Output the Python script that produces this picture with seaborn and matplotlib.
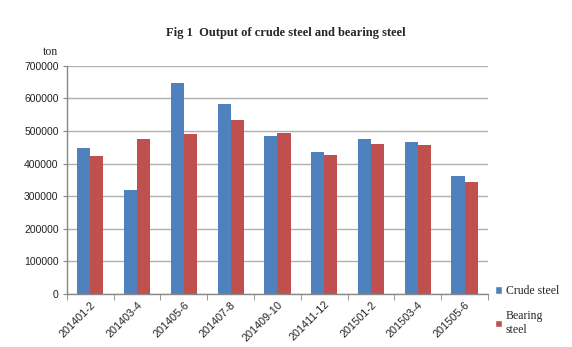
import matplotlib
matplotlib.use("Agg")
import matplotlib.pyplot as plt
import seaborn as sns
import pandas as pd
from matplotlib.patches import Patch

periods = ["201401-2", "201403-4", "201405-6", "201407-8", "201409-10",
           "201411-12", "201501-2", "201503-4", "201505-6"]
crude_steel = [448000, 319000, 649000, 582000, 486000, 437000, 475000, 465000, 362000]
bearing_steel = [424000, 476000, 490000, 534000, 495000, 427000, 460000, 457000, 343000]
series_names = ["Crude steel", "Bearing steel"]
colors = ["#4F81BD", "#C0504D"]

df = pd.DataFrame({
    "period": periods * 2,
    "value": crude_steel + bearing_steel,
    "series": [series_names[0]] * len(periods) + [series_names[1]] * len(periods),
})

sns.set_style("white")
fig = plt.figure(figsize=(5.72, 3.47), dpi=100)
ax = fig.add_axes([0.117, 0.153, 0.736, 0.657])

sns.barplot(data=df, x="period", y="value", hue="series", palette=colors,
            width=0.56, saturation=1, ax=ax, legend=False, linewidth=0,
            edgecolor="none")

ax.set_ylim(0, 700000)
ax.set_yticks(range(0, 700001, 100000))
ax.set_yticklabels([str(v) for v in range(0, 700001, 100000)],
                   fontsize=7.5, family="Liberation Sans", color="#222222")
ax.set_xlim(-0.5, len(periods) - 0.5)
ax.set_xticks(range(len(periods)))
ax.set_xticklabels(periods, rotation=45, ha="right", rotation_mode="anchor",
                   fontsize=7.8, family="Liberation Sans", color="#222222")
ax.tick_params(axis="x", length=0, pad=4)
ax.tick_params(axis="y", length=3, color="#888888", left=True, pad=3)
ax.set_xticks([i - 0.5 for i in range(len(periods) + 1)], minor=True)
ax.tick_params(axis="x", which="minor", length=4, color="#888888", bottom=True)

ax.grid(axis="y", color="#B0B0B0", linewidth=1.0)
ax.set_axisbelow(True)
ax.set_xlabel("")
ax.set_ylabel("")
for s in ["top", "right"]:
    ax.spines[s].set_visible(False)
for s in ["left", "bottom"]:
    ax.spines[s].set_color("#888888")
    ax.spines[s].set_linewidth(1.0)

fig.text(0.5, 0.905, "Fig 1  Output of crude steel and bearing steel",
         ha="center", va="center", fontsize=9, fontweight="bold",
         family="Liberation Serif")
fig.text(0.088, 0.85, "ton", ha="center", va="center", fontsize=8.5,
         family="Liberation Serif")

handles = [Patch(facecolor=colors[0]), Patch(facecolor=colors[1])]
fig.legend(handles, ["Crude steel", "Bearing\nsteel"], loc="upper left",
           bbox_to_anchor=(0.866, 0.178), frameon=False,
           prop={"family": "Liberation Serif", "size": 8.5},
           handlelength=0.6, handleheight=0.6, handletextpad=0.3,
           labelspacing=1.1, borderaxespad=0, borderpad=0)

fig.savefig("out.png", dpi=100)
